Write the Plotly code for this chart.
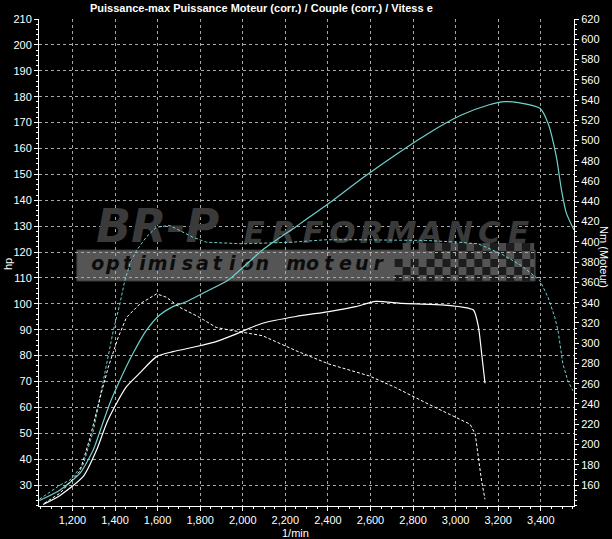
import plotly.graph_objects as go

# ---------------- data ----------------
rpm_power_tuned = [1045, 1142, 1236, 1298, 1337, 1376, 1423, 1485, 1548, 1610, 1672, 1735,
                   1813, 1932, 2093, 2250, 2405, 2561, 2717, 2873, 3027, 3154, 3232, 3294,
                   3396, 3434, 3473, 3497, 3520, 3556]
hp_power_tuned = [24.0, 28.1, 34.6, 43.6, 52.6, 61.6, 70.5, 80.9, 89.8, 95.7, 98.9, 100.8,
                  104.1, 109.2, 120.8, 129.8, 138.8, 148.5, 157.5, 165.9, 172.9, 176.8, 178.1, 177.7,
                  175.5, 169.7, 156.8, 144.0, 135.0, 128.5]

rpm_power_stock = [1062, 1142, 1251, 1314, 1361, 1408, 1454, 1517, 1595, 1672, 1782, 1875,
                   1938, 2093, 2250, 2405, 2530, 2624, 2748, 2935, 3060, 3084, 3107, 3122, 3138]
hp_power_stock = [22.5, 26.0, 33.3, 43.6, 54.0, 61.7, 68.0, 73.3, 79.6, 81.5, 83.5, 85.4,
                  87.3, 92.5, 95.1, 97.0, 98.9, 100.9, 100.2, 99.6, 98.3, 97.6, 91.2, 80.9, 69.3]

rpm_torque_tuned = [1045, 1142, 1189, 1251, 1298, 1330, 1361, 1392, 1423, 1446, 1470, 1501,
                    1548, 1595, 1657, 1766, 1829, 2000, 2234, 2390, 2546, 2701, 2858, 3014,
                    3107, 3216, 3309, 3396, 3434, 3466, 3481, 3504, 3527, 3551]
nm_torque_tuned = [146, 160, 165, 180.5, 213.4, 246.4, 279.4, 312.4, 338.8, 361.8, 378.3, 391.5,
                   405, 414.5, 416.2, 404.6, 399.7, 398.1, 399.7, 402.1, 402.1, 402.1, 401.4, 399.7,
                   398, 388, 376.6, 361.8, 345.3, 325.5, 312.4, 279.4, 262.9, 253]

rpm_torque_stock = [1068, 1142, 1236, 1283, 1330, 1368, 1415, 1454, 1517, 1595, 1642, 1704,
                    1797, 1875, 1938, 2093, 2250, 2405, 2593, 2717, 2873, 2998, 3068, 3092,
                    3107, 3122, 3138]
nm_torque_stock = [142, 152, 173.9, 206.8, 246.4, 276, 305.7, 325.5, 338.8, 348.7, 345.3, 335.4,
                   325.5, 315.6, 313, 307.4, 292.6, 279.4, 267.8, 256.3, 239.8, 226.6, 220, 210.2,
                   187, 164, 145.9]

x_ticks = [1200, 1400, 1600, 1800, 2000, 2200, 2400, 2600, 2800, 3000, 3200, 3400]
x_tick_labels = ["1,200", "1,400", "1,600", "1,800", "2,000", "2,200", "2,400", "2,600",
                 "2,800", "3,000", "3,200", "3,400"]
hp_ticks = list(range(30, 211, 10))
nm_ticks = list(range(160, 621, 20))

title_text = "Puissance-max Puissance Moteur (corr.) / Couple (corr.) / Vitess e"

# ---------------- geometry ----------------
W, H = 612, 539
L, R, T, B = 39, 36, 19, 33
X_RANGE = [1043, 3556]
HP_RANGE = [21.9, 210]
NM_RANGE = [160 + (HP_RANGE[0] - 30) * 460 / 180, 620]

PX0, PX1 = L, W - R
PY0, PY1 = T, H - B


def xp(px):
    return (px - PX0) / (PX1 - PX0)


def yp(py):
    return (PY1 - py) / (PY1 - PY0)


def px2x(px):
    return X_RANGE[0] + xp(px) * (X_RANGE[1] - X_RANGE[0])


def py2y(py):
    return HP_RANGE[0] + yp(py) * (HP_RANGE[1] - HP_RANGE[0])


FONT = "Liberation Sans, Arial, sans-serif"
CYAN = "#6fd0cc"

fig = go.Figure()

# ---------------- watermark (decoration) ----------------
shapes = []
shapes.append(dict(type="rect", xref="paper", yref="paper", layer="below",
                   x0=xp(77), x1=xp(537), y0=yp(281), y1=yp(250),
                   fillcolor="#555555", line=dict(color="#3a3a3a", width=1)))
# checker flag
sq = 8
cols = list(range(396, 536, sq))
rows = list(range(243, 281, sq))
for ci, cx in enumerate(cols):
    for ri, ry in enumerate(rows):
        if (ci + ri) % 2 == 0:
            if ci < 4 and ri < 2:
                continue
            shapes.append(dict(type="rect", xref="paper", yref="paper", layer="below",
                               x0=xp(cx), x1=xp(min(cx + sq, 536)), y0=yp(min(ry + sq, 281)), y1=yp(ry),
                               fillcolor="#1c1c1c", line=dict(width=0)))
        elif ry < 250:
            shapes.append(dict(type="rect", xref="paper", yref="paper", layer="below",
                               x0=xp(cx), x1=xp(min(cx + sq, 536)), y0=yp(ry + sq), y1=yp(ry),
                               fillcolor="#4a4a4a", line=dict(width=0)))

# big logo text as text traces (drawn under curves)
fig.add_trace(go.Scatter(x=[px2x(158)], y=[py2y(230)], mode="text", text=["BR-P"],
                         textfont=dict(family="DejaVu Sans", size=46, color="#3a3a3a",
                                       style="italic", weight="bold"),
                         hoverinfo="skip", showlegend=False))
logo_letters = list("ERFORMANCE")
lx = [255 + i * 29.5 for i in range(len(logo_letters))]
fig.add_trace(go.Scatter(x=[px2x(v) for v in lx], y=[py2y(235)] * len(lx), mode="text",
                         text=logo_letters,
                         textfont=dict(family="DejaVu Sans", size=31, color="#3a3a3a",
                                       style="italic", weight="bold"),
                         hoverinfo="skip", showlegend=False))
opt = list("optimisation")
ox = [98 + i * 15.0 for i in range(len(opt))]
mot = list("moteur")
mx = [297 + i * 16.5 for i in range(len(mot))]
fig.add_trace(go.Scatter(x=[px2x(v) for v in ox + mx], y=[py2y(265)] * (len(ox) + len(mx)),
                         mode="text", text=opt + mot,
                         textfont=dict(family="DejaVu Sans", size=19, color="#0c0c0c",
                                       style="italic", weight="bold"),
                         hoverinfo="skip", showlegend=False))

# ---------------- curves ----------------
fig.add_trace(go.Scatter(x=rpm_torque_tuned, y=nm_torque_tuned, yaxis="y2", mode="lines",
                         line=dict(color=CYAN, width=1, dash="3px,2px"), showlegend=False))
fig.add_trace(go.Scatter(x=rpm_torque_stock, y=nm_torque_stock, yaxis="y2", mode="lines",
                         line=dict(color="#ffffff", width=1, dash="3px,2px"), showlegend=False))
fig.add_trace(go.Scatter(x=rpm_power_tuned, y=hp_power_tuned, mode="lines",
                         line=dict(color=CYAN, width=1.2, shape="spline", smoothing=0.6),
                         showlegend=False))
fig.add_trace(go.Scatter(x=rpm_power_stock, y=hp_power_stock, mode="lines",
                         line=dict(color="#ffffff", width=1.2, shape="spline", smoothing=0.6),
                         showlegend=False))

tickfont = dict(family=FONT, size=11, color="#ffffff")
grid = dict(showgrid=True, gridcolor="#a8a8a8", gridwidth=1, griddash="3px,3px")

fig.update_layout(
    width=W, height=H,
    margin=dict(l=L, r=R, t=T, b=B, pad=0),
    paper_bgcolor="#000000", plot_bgcolor="#000000",
    showlegend=False,
    hovermode=False,
    shapes=shapes,
    xaxis=dict(range=X_RANGE, tickvals=x_ticks, ticktext=x_tick_labels, tickfont=tickfont,
               ticks="outside", ticklen=4, tickcolor="#ffffff", showline=True,
               linecolor="#ffffff", linewidth=1, zeroline=False,
               minor=dict(dtick=50, ticks="outside", ticklen=2, tickcolor="#ffffff", showgrid=False),
               **grid),
    yaxis=dict(range=HP_RANGE, tickvals=hp_ticks, tickfont=tickfont,
               ticks="outside", ticklen=4, tickcolor="#ffffff", showline=True,
               linecolor="#ffffff", linewidth=1, zeroline=False,
               minor=dict(dtick=2, ticks="outside", ticklen=2, tickcolor="#ffffff", showgrid=False),
               **grid),
    yaxis2=dict(range=NM_RANGE, tickvals=nm_ticks, tickfont=tickfont, overlaying="y", side="right",
                ticks="outside", ticklen=4, tickcolor="#ffffff", showline=True,
                linecolor="#ffffff", linewidth=1, zeroline=False, showgrid=False,
                minor=dict(dtick=5, ticks="outside", ticklen=2, tickcolor="#ffffff", showgrid=False)),
    annotations=[
        dict(text="<b>" + title_text + "</b>", xref="paper", yref="paper", x=xp(262), y=yp(8),
             showarrow=False, font=dict(family=FONT, size=11, color="#ffffff"),
             xanchor="center", yanchor="middle"),
        dict(text="hp", xref="paper", yref="paper", x=xp(8), y=yp(264), textangle=-90,
             showarrow=False, font=dict(family=FONT, size=11, color="#ffffff"),
             xanchor="center", yanchor="middle"),
        dict(text="Nm (Moteur)", xref="paper", yref="paper", x=xp(606), y=yp(257), textangle=90,
             showarrow=False, font=dict(family=FONT, size=11, color="#ffffff"),
             xanchor="center", yanchor="middle"),
        dict(text="1/min", xref="paper", yref="paper", x=xp(296), y=yp(533),
             showarrow=False, font=dict(family=FONT, size=11, color="#ffffff"),
             xanchor="center", yanchor="middle"),
    ],
)

fig.write_html(
    "out.html",
    config={"displayModeBar": False},
    post_script="document.body.style.margin='0px';document.body.style.padding='0px';"
                "document.body.style.overflow='hidden';document.body.style.background='#000';",
)
